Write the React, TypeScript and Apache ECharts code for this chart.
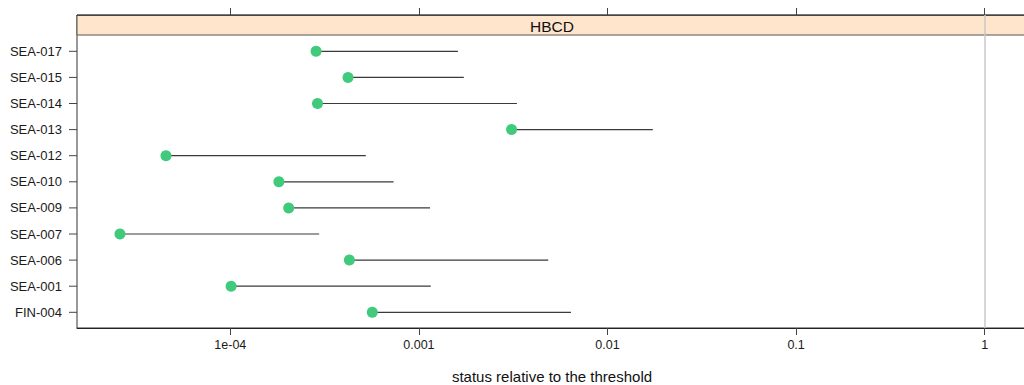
import React, { useEffect, useRef } from "react";
import * as echarts from "echarts";

// Categories bottom-to-top (as drawn by lattice)
const stations = [
  "FIN-004",
  "SEA-001",
  "SEA-006",
  "SEA-007",
  "SEA-009",
  "SEA-010",
  "SEA-012",
  "SEA-013",
  "SEA-014",
  "SEA-015",
  "SEA-017",
];
// status relative to the threshold: point estimate (dot) and upper limit (segment end)
const statusValue = [
  5.66e-4, 1.01e-4, 4.28e-4, 2.6e-5, 2.04e-4, 1.81e-4, 4.56e-5, 3.1e-3, 2.9e-4, 4.21e-4, 2.85e-4,
];
const statusUpper = [
  6.4e-3, 1.156e-3, 4.85e-3, 2.96e-4, 1.146e-3, 7.34e-4, 5.23e-4, 1.738e-2, 3.31e-3, 1.73e-3, 1.61e-3,
];
const xTickValues = [1e-4, 1e-3, 1e-2, 1e-1, 1];
const xTickLabels = ["1e-04", "0.001", "0.01", "0.1", "1"];
const thresholdValue = 1;
const panelTitle = "HBCD";
const xTitle = "status relative to the threshold";

const FONT = "'Liberation Sans', Arial, Helvetica, sans-serif";
const X_MIN = -4.8128;
const X_MAX = 0.2243;

export default function App() {
  const ref = useRef<HTMLDivElement>(null);

  useEffect(() => {
    if (!ref.current) return;
    const chart = echarts.init(ref.current, undefined, { renderer: "svg" });
    const tickLogs = xTickValues.map((v) => Math.log10(v));
    const fmt = (v: number) => {
      const i = tickLogs.findIndex((l) => Math.abs(l - v) < 1e-6);
      return i >= 0 ? xTickLabels[i] : "";
    };

    const option: any = {
      animation: false,
      textStyle: { fontFamily: FONT },
      grid: [
        // panel (incl. strip)
        {
          left: 77, right: -3, top: 15, bottom: 57, show: true,
          borderColor: "#333", borderWidth: 1, backgroundColor: "transparent",
          containLabel: false, outerBoundsMode: "none",
        },
        // data area
        {
          left: 77, right: -3, top: 38.25, bottom: 59.65, show: false,
          containLabel: false, outerBoundsMode: "none",
        },
      ],
      xAxis: [
        {
          type: "value",
          gridIndex: 0,
          position: "bottom",
          min: X_MIN,
          max: X_MAX,
          splitLine: { show: false },
          axisLine: { show: true, onZero: false, lineStyle: { color: "#222", width: 1 } },
          axisTick: { show: true, inside: false, length: 7, customValues: tickLogs, lineStyle: { color: "#444" } },
          axisLabel: {
            show: true,
            margin: 10,
            customValues: tickLogs,
            formatter: fmt,
            color: "#1a1a1a",
            fontSize: 12.5,
            fontFamily: FONT,
          },
          name: xTitle,
          nameLocation: "middle",
          nameGap: 40,
          nameTextStyle: { color: "#111", fontSize: 15, fontFamily: FONT, lineHeight: 16 },
        },
        {
          type: "value",
          gridIndex: 0,
          position: "top",
          min: X_MIN,
          max: X_MAX,
          splitLine: { show: false },
          axisLine: { show: true, onZero: false, lineStyle: { color: "#444", width: 1 } },
          axisTick: { show: true, inside: false, length: 7, customValues: tickLogs, lineStyle: { color: "#444" } },
          axisLabel: { show: false },
        },
        {
          type: "value",
          gridIndex: 1,
          position: "bottom",
          min: X_MIN,
          max: X_MAX,
          splitLine: { show: false },
          axisTick: { show: false },
          axisLine: { show: false, onZero: false },
          axisLabel: { show: false },
        },
      ],
      yAxis: [
        {
          type: "value", gridIndex: 0, min: 0, max: 1, show: false,
          splitLine: { show: false }, axisTick: { show: false },
          axisLine: { show: false, onZero: false }, axisLabel: { show: false },
        },
        {
          type: "category",
          gridIndex: 1,
          position: "left",
          data: stations,
          axisLine: { show: false, onZero: false },
          axisTick: { show: false },
          axisLabel: { show: true, color: "#1a1a1a", fontSize: 13, margin: 15, fontFamily: FONT },
          splitLine: { show: false },
        },
      ],
      series: [
        {
          type: "line",
          xAxisIndex: 0,
          yAxisIndex: 0,
          data: [],
          silent: true,
          markLine: {
            silent: true,
            symbol: ["none", "none"],
            label: { show: false },
            lineStyle: { color: "#c8c8c8", width: 1.5, type: "solid" },
            data: [{ xAxis: Math.log10(thresholdValue) }],
          },
        },
        // y-axis ticks at each category, placed on the panel's left edge
        {
          type: "custom",
          xAxisIndex: 2,
          yAxisIndex: 1,
          z: 5,
          clip: false,
          silent: true,
          data: stations.map((s, i) => [X_MIN, i]),
          renderItem: (params: any, api: any) => {
            const p = api.coord([api.value(0), api.value(1)]);
            return {
              type: "line",
              shape: { x1: p[0] - 8, y1: p[1], x2: p[0], y2: p[1] },
              style: { stroke: "#444", lineWidth: 1 },
            };
          },
        },
        {
          type: "custom",
          xAxisIndex: 2,
          yAxisIndex: 1,
          z: 3,
          data: stations.map((s, i) => [Math.log10(statusValue[i]), i, Math.log10(statusUpper[i])]),
          renderItem: (params: any, api: any) => {
            const p0 = api.coord([api.value(0), api.value(1)]);
            const p1 = api.coord([api.value(2), api.value(1)]);
            return {
              type: "line",
              shape: { x1: p0[0], y1: p0[1], x2: p1[0], y2: p1[1] },
              style: { stroke: "#3a3a3a", lineWidth: 1.2 },
            };
          },
        },
        {
          type: "scatter",
          xAxisIndex: 2,
          yAxisIndex: 1,
          z: 4,
          symbol: "circle",
          symbolSize: 11,
          itemStyle: { color: "#3fca7c", opacity: 1 },
          data: stations.map((s, i) => [Math.log10(statusValue[i]), i]),
        },
      ],
      graphic: [
        {
          type: "group",
          z: 100,
          children: [
            {
              type: "rect",
              shape: { x: 77, y: 15, width: 960, height: 20 },
              style: { fill: "#ffe5cc", stroke: "#555", lineWidth: 1 },
            },
            {
              type: "text",
              x: 552,
              y: 26,
              style: {
                text: panelTitle,
                fill: "#111",
                fontSize: 15.5,
                fontFamily: FONT,
                textAlign: "center",
                textVerticalAlign: "middle",
                verticalAlign: "middle",
              },
            },
          ],
        },
      ],
    };
    chart.setOption(option);
    return () => chart.dispose();
  }, []);

  return (
    <div
      ref={ref}
      style={{ position: "fixed", left: 0, top: 0, width: 1024, height: 385, background: "#fff" }}
    />
  );
}
